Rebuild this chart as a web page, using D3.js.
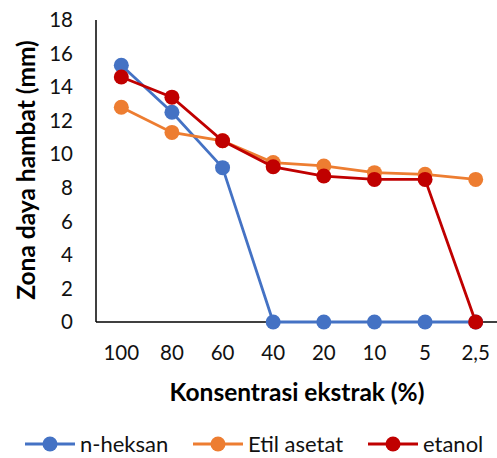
<!DOCTYPE html>
<html><head><meta charset="utf-8">
<script src="https://cdn.jsdelivr.net/npm/d3@7"></script>
<style>body{margin:0;background:#fff}svg{font-family:Lato,"Open Sans",sans-serif}</style>
</head><body>
<script>
const categories = ["100","80","60","40","20","10","5","2,5"];
const nHeksan = [15.3,12.5,9.2,0,0,0,0,0];
const etilAsetat = [12.8,11.3,10.8,9.5,9.3,8.9,8.8,8.5];
const etanol = [14.6,13.4,10.8,9.25,8.7,8.5,8.5,0];
const yTicks = [0,2,4,6,8,10,12,14,16,18];
const seriesNames = ["n-heksan","Etil asetat","etanol"];
const colors = ["#4472C4","#ED7D31","#C00000"];

const W=497,H=458;
const svg=d3.select("body").append("svg").attr("width",W).attr("height",H);
const x=d3.scaleBand().domain(categories).range([96,501]);
const y=d3.scaleLinear().domain([0,18]).range([322,20]);

// y axis
svg.append("line").attr("x1",96).attr("x2",96).attr("y1",y(18)).attr("y2",y(0)).attr("stroke","#000").attr("stroke-width",1.5);
svg.selectAll(".yt").data(yTicks).enter().append("text")
 .attr("x",73).attr("y",d=>y(d)).attr("dy","0.35em").attr("text-anchor","end")
 .attr("font-size",20.5).attr("fill","#111").text(d=>d);
// x axis
svg.append("line").attr("x1",96).attr("x2",497).attr("y1",y(0)).attr("y2",y(0)).attr("stroke","#000").attr("stroke-width",1.5);
svg.selectAll(".xt").data(categories).enter().append("text")
 .attr("x",d=>x(d)+x.bandwidth()/2).attr("y",353).attr("dy","0.35em").attr("text-anchor","middle")
 .attr("font-size",20.5).attr("fill","#111").text(d=>d);

svg.append("text").attr("transform","translate(26,170) rotate(-90)").attr("text-anchor","middle")
 .attr("dy","0.35em").attr("font-size",24.5).attr("font-weight","bold").text("Zona daya hambat (mm)");
svg.append("text").attr("x",297).attr("y",392).attr("dy","0.35em").attr("text-anchor","middle")
 .attr("font-size",24.5).attr("font-weight","bold").text("Konsentrasi ekstrak (%)");

const data=[nHeksan,etilAsetat,etanol];
const line=d3.line().x((d,i)=>x(categories[i])+x.bandwidth()/2).y(d=>y(d));
data.forEach((s,k)=>{
  const g=svg.append("g");
  g.append("path").attr("d",line(s)).attr("fill","none").attr("stroke",colors[k]).attr("stroke-width",2.8);
  g.selectAll("circle").data(s).enter().append("circle")
   .attr("cx",(d,i)=>x(categories[i])+x.bandwidth()/2).attr("cy",d=>y(d)).attr("r",7.5).attr("fill",colors[k]);
});

// legend
const legX=[25,193,368];
seriesNames.forEach((n,k)=>{
  const g=svg.append("g").attr("transform",`translate(${legX[k]},444)`);
  g.append("line").attr("x1",0).attr("x2",50).attr("stroke",colors[k]).attr("stroke-width",2.8);
  g.append("circle").attr("cx",25).attr("r",7.5).attr("fill",colors[k]);
  g.append("text").attr("x",55).attr("dy","0.35em").attr("font-size",22).attr("fill","#111").text(n);
});
</script>
</body></html>
